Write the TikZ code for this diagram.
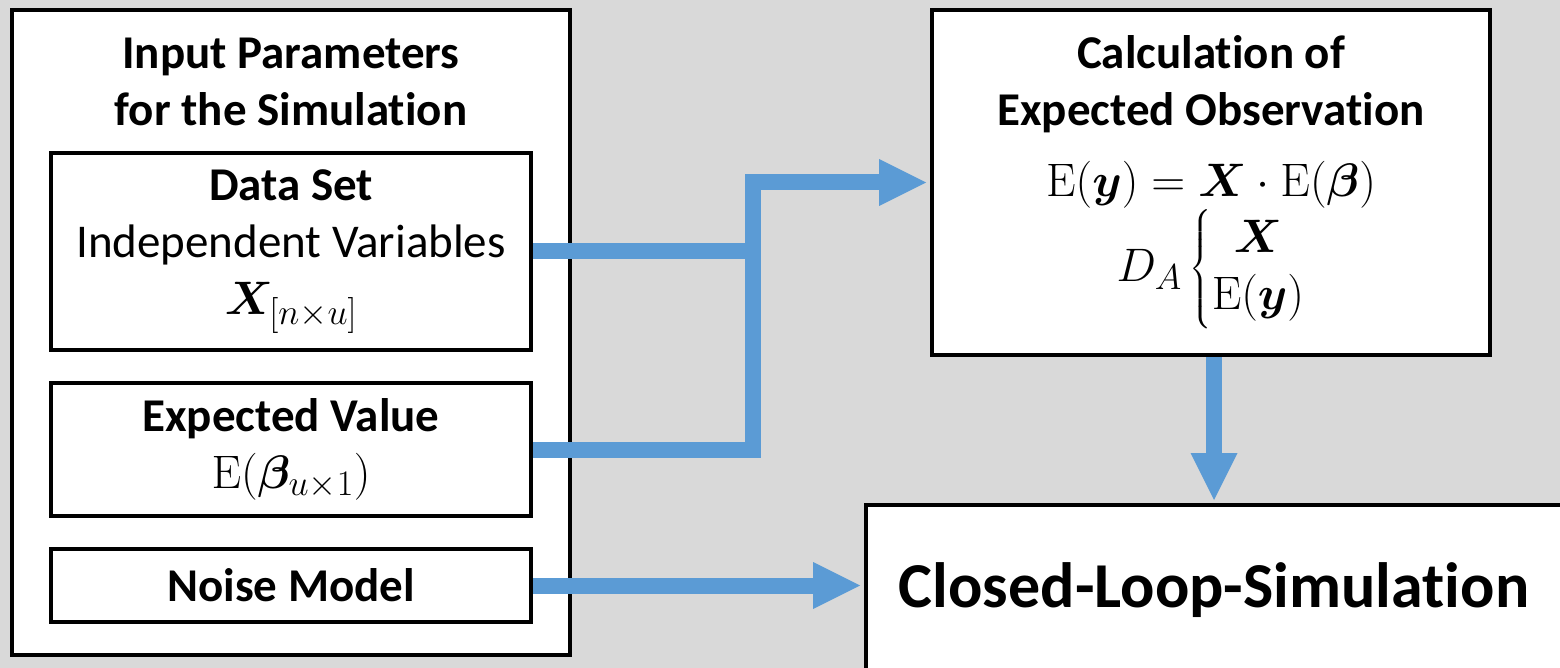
\documentclass[tikz,border=0pt]{standalone}
\usepackage{fix-cm}
\usepackage{amsmath,bm}
\usepackage[no-math]{fontspec}
\setmainfont[Ligatures=NoCommon]{Carlito}
\DeclareMathSizes{47}{47}{36}{28}
\usetikzlibrary{arrows.meta,positioning,calc}
\definecolor{flowblue}{HTML}{5B9BD5}
\definecolor{canvas}{HTML}{D9D9D9}

\begin{document}
\begin{tikzpicture}[x=1pt,y=-1pt,
        every node/.style={align=center,font=\fontsize{47}{57}\selectfont},
        box/.style={shape=rectangle,draw=black,fill=white,line width=4pt},
        flow/.style={draw=flowblue,line width=16pt},
        tip/.style={-{Triangle[length=47pt,width=47pt,line width=0pt]}},
        ]
\useasboundingbox (0,0) rectangle (1560,668);
\clip (0,0) rectangle (1560,668);
\fill[canvas] (0,0) rectangle (1560,668);

% input parameters
\node[box, minimum width=558pt, minimum height=645pt] (inputs) at (291,332.5) {};
\node (title) at (291,82) {\textbf{Input Parameters}\\\textbf{for the Simulation}};
\node[box, minimum width=480pt, minimum height=197pt] (data) at (291,251.5)
    {\textbf{Data Set}\\Independent Variables\\$\bm{X}_{[n\times u]}$};
\node[box, minimum width=480pt, minimum height=133pt] (expval) at (291,449.5)
    {\textbf{Expected Value}\\$\mathrm{E}(\bm{\beta}_{u\times 1})$};
\node[box, minimum width=480pt, minimum height=73pt] (noise) at (291,585.5)
    {\textbf{Noise Model}};

% calculation and simulation
\node[box, minimum width=558pt, minimum height=345pt] (calc) at (1211,182.5)
    {\textbf{Calculation of}\\\textbf{Expected Observation}\\[14pt]
     $\mathrm{E}(\bm{y})=\bm{X}\cdot\mathrm{E}(\bm{\beta})$\\
     $D_A\left\{\begin{array}{@{}c@{}}\bm{X}\\\mathrm{E}(\bm{y})\end{array}\right.$};
\node[box, minimum width=696pt, minimum height=171pt,
      font=\fontsize{64}{77}\selectfont\bfseries] (loop) at (1214,590.5)
    {Closed-Loop-Simulation};

% connectors
\coordinate (bus) at (753,0);
\draw[flow] (data.east) -- (data.east -| bus);
\draw[flow,tip,shorten >=4pt] (expval.east) -| (bus |- calc.west) -- (calc.west);
\draw[flow,tip,shorten >=4pt] (noise.east) -- (noise.east -| loop.west);
\draw[flow,tip,shorten >=3pt] (loop.north |- calc.south) -- (loop.north);

\end{tikzpicture}
\end{document}
